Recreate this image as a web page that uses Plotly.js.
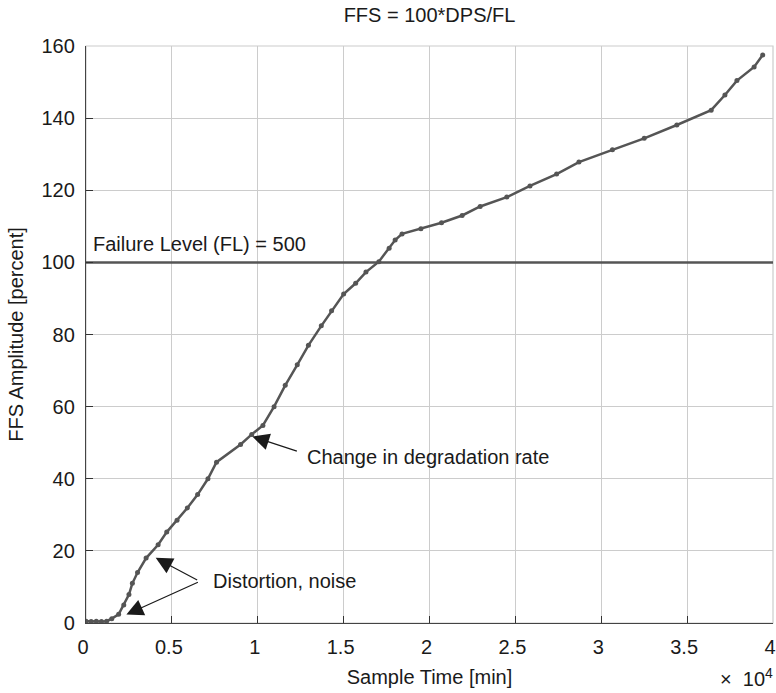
<!DOCTYPE html>
<html>
<head>
<meta charset="utf-8">
<script src="https://cdn.plot.ly/plotly-3.0.1.min.js"></script>
<style>html,body{margin:0;padding:0;background:#fff;}#chart{width:776px;height:693px;}</style>
</head>
<body>
<div id="chart"></div>
<script>
// Sample time [min]
const sampleTime = [0, 300, 600, 900, 1200, 1500, 1900, 2200, 2500, 2700, 3000, 3500, 4200, 4700, 5300, 5900, 6500, 7100, 7600, 9000, 9650, 10300, 10950, 11600, 12300, 12950, 13700, 14300, 15000, 15700, 16300, 17050, 17650, 18000, 18400, 19500, 20700, 21900, 22950, 24500, 25850, 27400, 28700, 30650, 32500, 34400, 36400, 37200, 37900, 38900, 39400];
// FFS amplitude [percent]
const ffsAmplitude = [0.5, 0.4, 0.5, 0.4, 0.5, 1.2, 2.4, 5.0, 7.9, 11.0, 14.0, 18.0, 21.7, 25.2, 28.5, 31.9, 35.6, 40.0, 44.6, 49.5, 52.3, 54.8, 60.0, 65.9, 71.6, 77.0, 82.4, 86.6, 91.2, 94.2, 97.3, 100.2, 103.9, 106.2, 107.9, 109.3, 111.0, 113.0, 115.5, 118.1, 121.2, 124.5, 127.8, 131.2, 134.4, 138.1, 142.2, 146.4, 150.4, 154.2, 157.5];
// Failure level line
const failX = [0, 40000];
const failY = [100, 100];
// Ticks
const xTickVals = [0, 5000, 10000, 15000, 20000, 25000, 30000, 35000, 40000];
const xTickText = ['0', '0.5', '1', '1.5', '2', '2.5', '3', '3.5', '4'];
const yTickVals = [0, 20, 40, 60, 80, 100, 120, 140, 160];

const FONT = 'Liberation Sans, Arial, Helvetica, sans-serif';
const FS = 20;
const TXT = '#1a1a1a';
const LINE = '#555555';
const GRID = '#cccccc';

const traces = [
  {x: failX, y: failY, mode: 'lines', line: {color: LINE, width: 2.5}, hoverinfo: 'skip', showlegend: false},
  {x: sampleTime, y: ffsAmplitude, mode: 'lines+markers', line: {color: LINE, width: 2.5},
   marker: {color: LINE, size: 5}, showlegend: false}
];

const arrow = {showarrow: true, arrowhead: 2, arrowsize: 2.8, arrowwidth: 1.2, arrowcolor: '#1a1a1a', standoff: 0, text: '', xref: 'x', yref: 'y'};
const f = {family: FONT, size: FS, color: TXT};

const layout = {
  width: 776, height: 693,
  margin: {l: 86, r: 3, t: 46, b: 70},
  paper_bgcolor: '#fff', plot_bgcolor: '#fff',
  font: f,
  showlegend: false,
  title: {text: 'FFS = 100*DPS/FL', x: 0.5535, xanchor: 'center', y: 0.978, yanchor: 'middle', font: f},
  xaxis: {
    range: [0, 40000], tickvals: xTickVals, ticktext: xTickText,
    showgrid: true, gridcolor: GRID, gridwidth: 1.2, zeroline: false,
    showline: true, linecolor: '#444', linewidth: 1.2,
    ticks: 'inside', ticklen: 7, tickcolor: '#333', tickwidth: 1,
    ticklabelstandoff: 6, ticklabelshift: -3, ticklabeloverflow: 'allow',
    tickfont: f,
    title: {text: 'Sample Time [min]', standoff: 12, font: f},
    automargin: false
  },
  yaxis: {
    range: [0, 160], tickvals: yTickVals,
    showgrid: true, gridcolor: GRID, gridwidth: 1.2, zeroline: false,
    showline: true, linecolor: '#444', linewidth: 1.2,
    ticks: 'inside', ticklen: 7, tickcolor: '#333', tickwidth: 1,
    ticklabelstandoff: 6,
    tickfont: f,
    title: {text: 'FFS Amplitude [percent]', standoff: 12, font: f},
    automargin: false
  },
  shapes: [
    {type: 'rect', xref: 'paper', yref: 'paper', x0: 0, x1: 1, y0: 0, y1: 1, line: {color: GRID, width: 1.2}, layer: 'below'}
  ],
  annotations: [
    {x: 300, y: 105.1, xref: 'x', yref: 'y', text: 'Failure Level (FL) = 500', showarrow: false, xanchor: 'left', yanchor: 'middle', font: f},
    {x: 12730, y: 46.1, xref: 'x', yref: 'y', text: 'Change in degradation rate', showarrow: false, xanchor: 'left', yanchor: 'middle', font: f},
    Object.assign({x: 9686, y: 51.7, ax: 46, ay: 15}, arrow),
    {x: 7300, y: 11.6, xref: 'x', yref: 'y', text: 'Distortion, noise', showarrow: false, xanchor: 'left', yanchor: 'middle', font: f},
    Object.assign({x: 4057, y: 18.06, ax: 43, ay: 23}, arrow),
    Object.assign({x: 2352, y: 2.35, ax: 73, ay: -33}, arrow),
    {x: 1.003, y: -0.094, xref: 'paper', yref: 'paper', text: '×  10<sup>4</sup>', showarrow: false, xanchor: 'right', yanchor: 'middle', font: f}
  ]
};
Plotly.newPlot('chart', traces, layout, {displayModeBar: false, staticPlot: true});
</script>
</body>
</html>
